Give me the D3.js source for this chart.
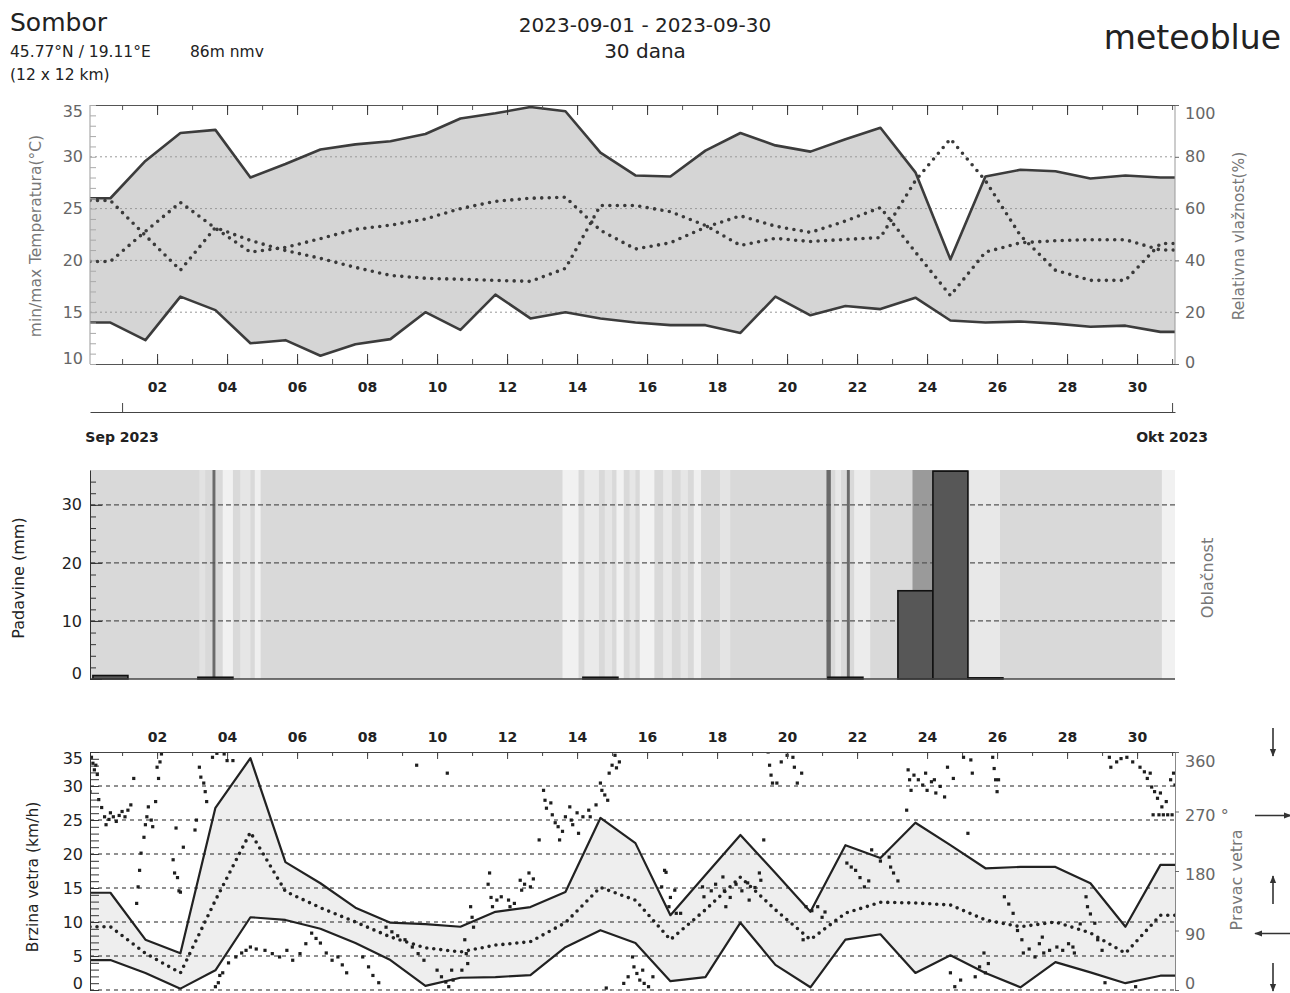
<!DOCTYPE html>
<html>
<head>
<meta charset="utf-8">
<script src="https://cdn.jsdelivr.net/npm/d3@7/dist/d3.min.js"></script>
<style>
body { margin: 0; background: #fff; }
svg { font-family: "DejaVu Sans", Verdana, sans-serif; }
</style>
</head>
<body>
<svg id="chart" width="1290" height="993"></svg>
<script>
// dnevne vrijednosti, 1. sep .. 1. okt (31 tacka)
var tMax = [26.0,29.6,32.3,32.6,28.0,29.3,30.7,31.2,31.5,32.2,33.7,34.2,34.8,34.4,30.4,28.2,28.1,30.6,32.3,31.1,30.5,31.7,32.8,28.5,20.1,28.1,28.75,28.6,27.9,28.2,28.0];
var tMin = [14.0,12.3,16.5,15.2,12.0,12.3,10.8,11.9,12.4,15.0,13.3,16.7,14.4,15.0,14.4,14.0,13.75,13.75,13.0,16.5,14.7,15.6,15.3,16.4,14.2,14.0,14.1,13.9,13.6,13.7,13.1];
var tMean = [19.9,22.8,25.6,23.1,20.8,21.25,22.1,23.0,23.4,24.0,25.0,25.7,26.0,26.1,22.9,21.1,21.7,23.2,24.3,23.3,22.7,23.8,25.1,20.8,16.6,20.8,21.7,21.9,22.0,22.0,21.0];
var rhMean = [63.1,49.6,36.2,52.7,47.7,43.8,40.8,37.3,34.2,33.1,32.7,32.3,31.9,36.9,61.2,61.2,58.8,53.5,45.8,48.5,47.3,48.1,48.8,70.8,86.9,70.8,49.6,36.2,32.3,32.3,46.5];
var precip = [0.6,0,0,0.3,0,0,0,0,0,0,0,0,0,0,0.3,0,0,0,0,0,0,0.3,0,15.2,35.8,0.2,0,0,0,0,0];
var windMax = [14.3,7.4,5.4,26.8,34.1,18.8,15.7,12.1,9.9,9.7,9.3,11.5,12.2,14.4,25.3,21.6,11.0,16.9,22.8,17.2,11.5,21.3,19.4,24.6,21.3,17.9,18.1,18.1,15.7,9.3,18.4];
var windMean = [9.3,5.4,2.5,13.2,23.2,14.5,12.1,10.0,7.8,6.2,5.6,6.6,7.1,9.9,15.1,13.2,7.4,11.8,16.6,11.8,7.4,11.3,12.9,12.8,12.5,10.3,9.3,10.0,8.4,5.4,11.0];
var windMin = [4.4,2.5,0.2,2.9,10.7,10.3,9.0,6.9,4.4,0.6,1.8,1.9,2.2,6.3,8.8,6.9,1.3,1.9,9.9,3.7,0.4,7.4,8.2,2.5,5.1,2.5,0.4,4.1,2.6,1.0,2.1];

// oblacnost: [sat od 1.9. 00 UTC, trajanje h, pokrivenost %], ostalo ~65%
var cloudBase = 65;
var cloudRuns = [[53,4,45],[62,2,100],[69,7,10],[81,7,35],[91,4,15],[302,11,10],[317,10,25],[331,5,35],[339,5,10],[348,4,35],[355,10,8],[371,6,30],[383,5,35],[392,5,15],[410,7,40],[483,3,100],[489,4,30],[497,2,100],[502,11,20],[542,14,85],[556,24,92],[581,21,30],[713,9,10]];

// pravac vetra: [sat od 1.9. 00 UTC, stepeni]
var windDirObs = [
 [-22,300],[-21,352],[-20,343],[-19,333],[-18,340],[-17,326],
 [-16,288],[-14,276],[-12,262],[-11,250],[-9,258],[-8,268],[-6,262],[-4,255],[-2,264],[0,270],[2,262],[4,272],[6,280],[8,320],
 [10,131],[11,156],[12,181],[13,207],[15,231],[16,250],[17,262],[18,277],
 [20,257],[21,247],[23,285],[24,337],[25,320],[26,345],[27,357],
 [35,197],[36,177],[37,245],[38,170],[39,150],[40,148],[42,216],
 [50,242],[51,257],[53,337],[54,322],[56,313],[57,300],[58,285],
 [62,352],[65,358],[70,357],[72,347],[76,347],
 [64,5],[66,11],[67,22],[69,26],[73,41],[78,50],[82,56],[85,60],[88,65],[92,62],[98,60],[103,55],[108,50],[113,60],[117,45],[122,55],[126,70],[130,86],[133,78],[136,71],[140,56],[144,45],[148,50],[151,38],[154,26],
 [165,50],[169,35],[172,22],[176,11],
 [181,95],[185,88],[189,82],[194,76],[199,65],[203,55],[207,45],[216,30],[219,20],[222,12],[224,5],[202,340],[223,328],
 [226,30],[227,15],[233,30],[235,76],[236,55],[237,40],[239,126],[240,110],[241,95],[251,160],[252,177],[253,140],[254,126],[257,136],[260,141],[265,136],[266,126],[269,131],[273,166],[274,151],[276,160],[279,177],[280,156],[282,168],
 [286,227],[289,302],[290,287],[291,275],[294,283],[295,265],[297,253],[299,247],[300,227],[302,240],[304,262],[307,277],[308,257],[309,250],[312,268],[313,237],[316,262],[320,272],[321,262],[325,280],[328,313],[329,302],[331,295],[333,287],[334,328],[336,340],[338,355],[339,336],[341,345],
 [332,3],[344,10],[347,20],[350,50],[351,35],[353,25],[355,15],[357,30],[358,10],[361,5],[364,20],[370,156],[372,181],[373,178],[375,126],[376,140],[379,151],[380,116],[383,116],
 [398,156],[399,141],[404,150],[407,160],[412,171],[413,150],[414,126],[417,140],[421,160],[425,150],[429,162],[430,136],[434,155],[437,177],[438,166],[440,227],
 [443,360],[444,340],[445,325],[446,313],[449,313],[452,345],[456,355],[460,352],[461,337],[463,313],[466,328],
 [467,76],[469,126],[473,120],[477,126],[480,110],[482,118],
 [497,192],[500,186],[503,181],[506,170],[509,156],[512,165],[514,212],[520,195],[526,201],[527,186],[529,177],[532,165],
 [538,272],[539,333],[540,318],[541,302],[543,325],[546,318],[549,310],[551,328],[552,302],[555,315],[557,318],[558,298],[561,308],[564,292],[566,337],[570,320],
 [568,26],[571,5],[575,15],[577,352],[580,237],[582,348],[583,328],[585,20],[588,35],[591,56],[592,26],[594,40],[597,352],[598,335],[599,318],[600,300],[601,318],
 [605,141],[608,130],[611,116],[614,90],[617,76],[618,56],[622,62],[626,50],[629,70],[631,80],[632,56],[636,60],[641,65],[645,60],[649,70],[652,65],[653,56],[657,100],[661,141],[662,126],[664,115],[667,101],[669,76],[672,60],
 [674,11],[677,352],[678,337],[682,345],[685,350],[689,352],[693,345],[695,5],[698,337],[701,330],[703,320],[705,328],[706,307],[708,300],[710,290],[712,298],[713,277],[716,285],[719,318],[721,328],[722,310],
 [707,265],[711,265],[714,265],[717,265],[720,265]
];

var tLabels = [10,15,20,25,30,35];
var rhLabels = [0,20,40,60,80,100];
var pLabels = [0,10,20,30];
var wLabels = [0,5,10,15,20,25,30,35];
var dirLabels = [0,90,180,270,360];
var monthLabels = ["Sep 2023", "Okt 2023"];

var svg = d3.select("#chart");
var X0 = 90, X1 = 1175;

var x = d3.scaleUtc()
    .domain([new Date(Date.UTC(2023,7,31,2)), new Date(Date.UTC(2023,9,1,2))])
    .range([X0, X1]);

function dayTime(d) { return new Date(Date.UTC(2023,8,d) - 8*3600e3); }
function hourTime(h) { return new Date(Date.UTC(2023,8,1) + h*3600e3); }

var dayTicks = d3.utcDay.range(new Date(Date.UTC(2023,8,1)), new Date(Date.UTC(2023,9,1,1)));
var evenTicks = dayTicks.filter(function(d) { return d.getUTCMonth() === 8 && d.getUTCDate() % 2 === 0; });

// tacke serije, sa ravnim produzetkom do ivica
function pts(vals) {
  var p = vals.map(function(v, i) { return { t: dayTime(i + 1), v: v }; });
  p.unshift({ t: x.domain()[0], v: vals[0] });
  p.push({ t: x.domain()[1], v: vals[vals.length - 1] });
  return p;
}
function band(lo, hi) {
  var a = pts(lo), b = pts(hi);
  return a.map(function(d, i) { return { t: d.t, lo: d.v, hi: b[i].v }; });
}

function styleAxis(g, col, size) {
  g.attr("font-family", null).attr("font-size", size || 16);
  g.selectAll("path.domain").attr("stroke", col);
  g.selectAll(".tick line").attr("stroke", col);
  g.selectAll(".tick text").attr("fill", col);
  return g;
}

function vlabel(txt, cx, cy, size, col, weight) {
  svg.append("text")
    .attr("transform", "translate(" + cx + "," + cy + ") rotate(-90)")
    .attr("text-anchor", "middle").attr("dominant-baseline", "middle")
    .attr("font-size", size).attr("fill", col).attr("font-weight", weight || "normal")
    .text(txt);
}

var defs = svg.append("defs");
function clip(id, y0, y1) {
  defs.append("clipPath").attr("id", id).append("rect")
    .attr("x", X0).attr("y", y0).attr("width", X1 - X0).attr("height", y1 - y0);
}

// ---------- zaglavlje ----------
svg.append("text").attr("x", 10).attr("y", 31).attr("font-size", 25).attr("fill", "#222").text("Sombor");
svg.append("text").attr("x", 10).attr("y", 57).attr("font-size", 15.5).attr("fill", "#222").text("45.77°N / 19.11°E");
svg.append("text").attr("x", 190).attr("y", 57).attr("font-size", 15.5).attr("fill", "#222").text("86m nmv");
svg.append("text").attr("x", 10).attr("y", 80).attr("font-size", 15.5).attr("fill", "#222").text("(12 x 12 km)");
svg.append("text").attr("x", 645).attr("y", 32).attr("font-size", 20).attr("text-anchor", "middle").attr("fill", "#222").text("2023-09-01 - 2023-09-30");
svg.append("text").attr("x", 645).attr("y", 58).attr("font-size", 20).attr("text-anchor", "middle").attr("fill", "#222").text("30 dana");
svg.append("text").attr("x", 1281).attr("y", 49).attr("font-size", 33).attr("text-anchor", "end").attr("fill", "#222").text("meteoblue");

// ---------- temperatura / vlaznost ----------
var TT = 105, TB = 364;
var yT = d3.scaleLinear().domain([10, 35]).range([TB, TT]);
var yRH = d3.scaleLinear().domain([0, 100]).range([TB, TT]);
clip("clipT", TT, TB + 1);

var gT = svg.append("g").attr("clip-path", "url(#clipT)");
gT.append("path").datum(band(tMin, tMax))
  .attr("fill", "#d5d5d5")
  .attr("d", d3.area().x(function(d) { return x(d.t); })
    .y0(function(d) { return yT(d.lo); }).y1(function(d) { return yT(d.hi); }));

[15, 20, 25, 30].forEach(function(v) {
  gT.append("line").attr("x1", X0).attr("x2", X1).attr("y1", yT(v)).attr("y2", yT(v))
    .attr("stroke", "#999").attr("stroke-dasharray", "2,3");
});

var lineT = d3.line().x(function(d) { return x(d.t); }).y(function(d) { return yT(d.v); });
var lineRH = d3.line().x(function(d) { return x(d.t); }).y(function(d) { return yRH(d.v); });
gT.append("path").datum(pts(tMean)).attr("d", lineT).attr("fill", "none")
  .attr("stroke", "#3a3a3a").attr("stroke-width", 3.6).attr("stroke-linecap", "round").attr("stroke-dasharray", "0,7.5");
gT.append("path").datum(pts(rhMean)).attr("d", lineRH).attr("fill", "none")
  .attr("stroke", "#3a3a3a").attr("stroke-width", 3.6).attr("stroke-linecap", "round").attr("stroke-dasharray", "0,7.5");
[tMax, tMin].forEach(function(s) {
  gT.append("path").datum(pts(s)).attr("d", lineT).attr("fill", "none")
    .attr("stroke", "#3c3c3c").attr("stroke-width", 2.6).attr("stroke-linejoin", "round");
});

// okvir i podeoci
svg.append("line").attr("x1", X0).attr("x2", X0).attr("y1", TT).attr("y2", TB).attr("stroke", "#999");
svg.append("line").attr("x1", X1).attr("x2", X1).attr("y1", TT).attr("y2", TB).attr("stroke", "#999");
styleAxis(svg.append("g").attr("transform", "translate(0," + TT + ")")
  .call(d3.axisBottom(x).tickValues(dayTicks).tickSize(5).tickSizeOuter(0).tickFormat("")), "#555");
styleAxis(svg.append("g").attr("transform", "translate(0," + TT + ")")
  .call(d3.axisBottom(x).tickValues(evenTicks).tickSize(10).tickSizeOuter(0).tickFormat("")), "#333")
  .select(".domain").remove();
styleAxis(svg.append("g").attr("transform", "translate(0," + TB + ")")
  .call(d3.axisTop(x).tickValues(dayTicks).tickSize(5).tickSizeOuter(0).tickFormat("")), "#555");
styleAxis(svg.append("g").attr("transform", "translate(0," + TB + ")")
  .call(d3.axisTop(x).tickValues(evenTicks).tickSize(10).tickSizeOuter(0).tickFormat("")), "#333")
  .select(".domain").remove();

var gTl = styleAxis(svg.append("g").attr("transform", "translate(" + X0 + ",0)")
  .call(d3.axisLeft(yT).tickValues(tLabels).tickSize(0).tickPadding(7)), "#666");
gTl.select(".domain").remove();
gTl.selectAll(".tick text").attr("y", function(d) { return d === 10 ? -6 : (d === 35 ? 6 : 0); });
styleAxis(svg.append("g").attr("transform", "translate(" + X0 + ",0)")
  .call(d3.axisRight(yT).tickValues(d3.range(10, 36)).tickSize(6).tickFormat("")), "#aaa")
  .select(".domain").remove();
var gTr = styleAxis(svg.append("g").attr("transform", "translate(" + X1 + ",0)")
  .call(d3.axisRight(yRH).tickValues(rhLabels).tickSize(4).tickPadding(6)), "#666");
gTr.select(".domain").remove();
gTr.selectAll(".tick text").attr("y", function(d) { return d === 100 ? 8 : (d === 0 ? -2 : 0); });

vlabel("min/max Temperatura(°C)", 36, 236, 15.5, "#777");
vlabel("Relativna vlažnost(%)", 1239, 236, 15.5, "#777");

// oznake dana ispod
var gDays = svg.append("g").attr("transform", "translate(0," + TB + ")")
  .call(d3.axisBottom(x).tickValues(evenTicks).tickSize(0).tickPadding(18).tickFormat(d3.utcFormat("%d")));
gDays.attr("font-family", null).attr("font-size", 14).attr("font-weight", "bold");
gDays.select(".domain").remove();
gDays.selectAll("text").attr("fill", "#222");

// mesecna osa
var monthTicks = [new Date(Date.UTC(2023,8,1)), new Date(Date.UTC(2023,9,1))];
styleAxis(svg.append("g").attr("transform", "translate(0,412)")
  .call(d3.axisTop(x).tickValues(monthTicks).tickSize(9).tickSizeOuter(0).tickFormat("")), "#444");
monthTicks.forEach(function(t, i) {
  svg.append("text").attr("x", x(t)).attr("y", 442).attr("text-anchor", "middle")
    .attr("font-size", 14).attr("font-weight", "bold").attr("fill", "#222").text(monthLabels[i]);
});

// ---------- padavine / oblacnost ----------
var PT = 470, PB = 679;
var yP = d3.scaleLinear().domain([0, 36]).range([PB, PT]);
var cloudCol = d3.scaleLinear().domain([0, 65, 100]).range(["#f5f5f5", "#d9d9d9", "#6a6a6a"]);
clip("clipP", PT, PB + 2);
var gP = svg.append("g").attr("clip-path", "url(#clipP)");
gP.append("rect").attr("x", X0).attr("y", PT).attr("width", X1 - X0).attr("height", PB - PT).attr("fill", cloudCol(cloudBase));
gP.selectAll("rect.cl").data(cloudRuns).enter().append("rect").attr("class", "cl")
  .attr("x", function(d) { return x(hourTime(d[0])); })
  .attr("width", function(d) { return x(hourTime(d[0] + d[1])) - x(hourTime(d[0])); })
  .attr("y", PT).attr("height", PB - PT)
  .attr("fill", function(d) { return cloudCol(d[2]); });
[10, 20, 30].forEach(function(v) {
  gP.append("line").attr("x1", X0).attr("x2", X1).attr("y1", yP(v)).attr("y2", yP(v))
    .attr("stroke", "#555").attr("stroke-width", 1.2).attr("stroke-dasharray", "5,3");
});
gP.selectAll("rect.bar").data(precip.map(function(v, i) { return { d: i + 1, v: v }; })
    .filter(function(d) { return d.v > 0; }))
  .enter().append("rect").attr("class", "bar")
  .attr("x", function(d) { return x(new Date(dayTime(d.d).getTime() - 12*3600e3)); })
  .attr("width", function(d) { return x(new Date(dayTime(d.d).getTime() + 12*3600e3)) - x(new Date(dayTime(d.d).getTime() - 12*3600e3)); })
  .attr("y", function(d) { return yP(d.v); })
  .attr("height", function(d) { return PB - yP(d.v); })
  .attr("fill", "#575757").attr("stroke", "#111").attr("stroke-width", 1.6);
svg.append("line").attr("x1", X0).attr("x2", X1).attr("y1", PB).attr("y2", PB).attr("stroke", "#444").attr("stroke-width", 1.4);

styleAxis(svg.append("g").attr("transform", "translate(" + X0 + ",0)")
  .call(d3.axisRight(yP).tickValues(d3.range(0, 36, 2)).tickSize(6).tickSizeOuter(0).tickFormat("")), "#333");
styleAxis(svg.append("g").attr("transform", "translate(" + X0 + ",0)")
  .call(d3.axisRight(yP).tickValues(pLabels).tickSize(12).tickFormat("")), "#333")
  .select(".domain").remove();
var gPl = styleAxis(svg.append("g").attr("transform", "translate(" + X0 + ",0)")
  .call(d3.axisLeft(yP).tickValues(pLabels).tickSize(0).tickPadding(8)), "#222");
gPl.select(".domain").remove();
gPl.selectAll(".tick text").attr("y", function(d) { return d === 0 ? -6 : 0; });
vlabel("Padavine (mm)", 19, 578, 16, "#222");
vlabel("Oblačnost", 1208, 578, 16, "#777");

// ---------- vetar ----------
var WT = 752, WB = 990;
var yW = d3.scaleLinear().domain([0, 35]).range([WB, WT]);
var yD = d3.scaleLinear().domain([0, 360]).range([WB, WT]);
clip("clipW", WT, WB + 2);

var gDays2 = svg.append("g").attr("transform", "translate(0," + WT + ")")
  .call(d3.axisTop(x).tickValues(evenTicks).tickSize(0).tickPadding(10).tickFormat(d3.utcFormat("%d")));
gDays2.attr("font-family", null).attr("font-size", 14).attr("font-weight", "bold");
gDays2.select(".domain").remove();
gDays2.selectAll("text").attr("fill", "#222");

var gW = svg.append("g").attr("clip-path", "url(#clipW)");
gW.append("path").datum(band(windMin, windMax))
  .attr("fill", "#eeeeee")
  .attr("d", d3.area().x(function(d) { return x(d.t); })
    .y0(function(d) { return yW(d.lo); }).y1(function(d) { return yW(d.hi); }));
d3.range(0, 31, 5).forEach(function(v) {
  gW.append("line").attr("x1", X0).attr("x2", X1).attr("y1", yW(v)).attr("y2", yW(v))
    .attr("stroke", "#222").attr("stroke-width", 1.2).attr("stroke-dasharray", "4,4");
});
var lineW = d3.line().x(function(d) { return x(d.t); }).y(function(d) { return yW(d.v); });
[windMax, windMin].forEach(function(s) {
  gW.append("path").datum(pts(s)).attr("d", lineW).attr("fill", "none")
    .attr("stroke", "#222").attr("stroke-width", 2.2).attr("stroke-linejoin", "round");
});
gW.append("path").datum(pts(windMean)).attr("d", lineW).attr("fill", "none")
  .attr("stroke", "#222").attr("stroke-width", 3.6).attr("stroke-linecap", "round").attr("stroke-dasharray", "0,7");
gW.selectAll("rect.wd").data(windDirObs).enter().append("rect").attr("class", "wd")
  .attr("x", function(d) { return x(hourTime(d[0])) - 1.6; })
  .attr("y", function(d) { return yD(d[1]) - 1.6; })
  .attr("width", 3.2).attr("height", 3.2).attr("fill", "#1e1e1e");

styleAxis(svg.append("g").attr("transform", "translate(0," + WT + ")")
  .call(d3.axisBottom(x).tickValues(dayTicks).tickSize(4).tickSizeOuter(0).tickFormat("")), "#444");
styleAxis(svg.append("g").attr("transform", "translate(0," + WT + ")")
  .call(d3.axisBottom(x).tickValues(evenTicks).tickSize(7).tickSizeOuter(0).tickFormat("")), "#444")
  .select(".domain").remove();
styleAxis(svg.append("g").attr("transform", "translate(" + X0 + ",0)")
  .call(d3.axisRight(yW).tickValues(d3.range(0, 36, 1)).tickSize(9).tickSizeOuter(0).tickFormat("")), "#333");
var gWl = styleAxis(svg.append("g").attr("transform", "translate(" + X0 + ",0)")
  .call(d3.axisLeft(yW).tickValues(wLabels).tickSize(0).tickPadding(7)), "#222");
gWl.select(".domain").remove();
gWl.selectAll(".tick text").attr("y", function(d) { return d === 0 ? -7 : (d === 35 ? 6 : 0); });
var gWr = styleAxis(svg.append("g").attr("transform", "translate(" + X1 + ",0)")
  .call(d3.axisRight(yD).tickValues(dirLabels).tickSize(4).tickSizeOuter(0).tickPadding(6)
    .tickFormat(function(d) { return d === 270 ? "270 °" : d; })), "#666");
gWr.select(".domain").attr("stroke", "#888");
gWr.selectAll(".tick text").attr("y", function(d) { return d === 360 ? 9 : (d === 0 ? -7 : (d === 180 ? 3 : 4)); });
vlabel("Brzina vetra (km/h)", 33, 877, 15.5, "#222");
vlabel("Pravac vetra", 1237, 880, 16, "#777");

// strelice pravca
defs.append("marker").attr("id", "ah").attr("viewBox", "0 0 10 10").attr("refX", 9).attr("refY", 5)
  .attr("markerWidth", 5).attr("markerHeight", 5).attr("orient", "auto")
  .append("path").attr("d", "M0,1 L10,5 L0,9 z").attr("fill", "#333");
var arrowShift = { 360: -10, 270: 4, 180: 19, 90: 3, 0: -13 };
dirLabels.forEach(function(dir) {
  var cy = yD(dir) + arrowShift[dir], cx = 1273, L = 14;
  var a = (dir + 180) % 360;              // smer kretanja vetra
  var dx = Math.sin(a * Math.PI / 180), dy = Math.cos(a * Math.PI / 180);
  var horiz = Math.abs(dx) > 0.5;
  var len = horiz ? L + 4 : L;
  svg.append("line")
    .attr("x1", cx - dx * len).attr("y1", cy + dy * len)
    .attr("x2", cx + dx * len).attr("y2", cy - dy * len)
    .attr("stroke", "#333").attr("stroke-width", 1.6).attr("marker-end", "url(#ah)");
});
</script>
</body>
</html>
